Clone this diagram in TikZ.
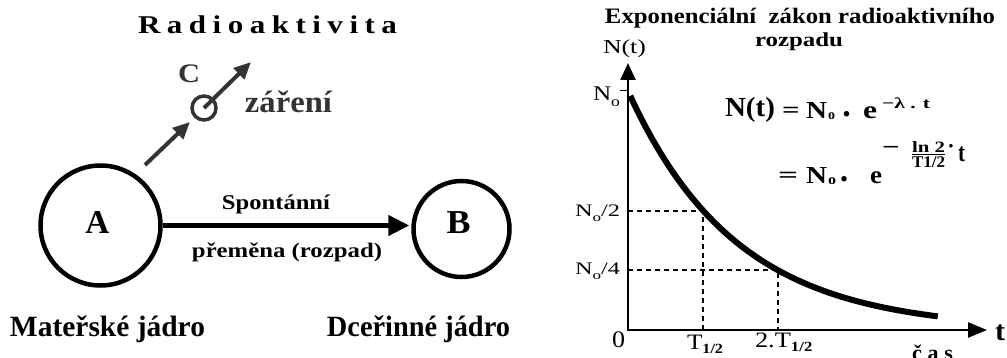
\documentclass[tikz,border=0pt]{standalone}
\usepackage{fontspec}
\setmainfont{Liberation Serif}
\usepackage{graphicx}
\usetikzlibrary{arrows.meta}
\definecolor{dg}{RGB}{51,51,51}
\newcommand{\fitt}[3]{\resizebox*{#1pt}{#2pt}{#3}}
\newcommand{\Nsub}{N\raisebox{-0.3em}{\scriptsize o}}
\newcommand{\fs}[1]{\fontsize{#1}{#1}\selectfont}
\begin{document}
\begin{tikzpicture}[x=1pt,y=-1pt,
  txt/.style={inner sep=0pt,outer sep=0pt},
  ring/.style={circle,draw,line width=4.5pt,inner sep=0pt},
  gr/.style={draw=dg,line width=4pt,-{Triangle[length=17pt,width=15pt]}},
  axisline/.style={line width=2.5pt,{Triangle[length=17pt,width=15pt]}-{Triangle[length=19pt,width=15pt]}},
  dsh/.style={line width=1.2pt,dash pattern=on 5pt off 4pt}]
\useasboundingbox (0,0) rectangle (1007,358);
\clip (0,0) rectangle (1007,358);
% ---------- left part ----------
\node[txt] (title) at (267.5,25) {\fitt{259}{18}{\bfseries\fs{30}\makebox[250pt][s]{R\hfill a\hfill d\hfill i\hfill o\hfill a\hfill k\hfill t\hfill i\hfill v\hfill i\hfill t\hfill a}}};
\node[txt,text=dg] (Clab) at (189,73.5) {\fitt{22}{18}{\bfseries C}};
\node[txt,text=dg] (zar) at (288.5,102) {\fitt{87}{22}{\bfseries záření}};
\node[ring,minimum size=120pt] (A) at (100.5,225.5) {};
\node[txt] (Alab) at (97.5,222.5) {\fitt{24}{22}{\bfseries A}};
\node[ring,minimum size=96pt] (B) at (461.5,229) {};
\node[txt] (Blab) at (458.5,222.5) {\fitt{24}{22}{\bfseries B}};
\draw[line width=4.5pt,-{Triangle[length=21pt,width=20pt]},shorten >=2pt] (A.east) -- (A.east -| B.west);
\node[txt] (sp) at (276,204) {\fitt{108}{19}{\bfseries Spontánní}};
\node[txt] (pr) at (287,252) {\fitt{190}{19}{\bfseries přeměna (rozpad)}};
\node[txt] (mat) at (107.5,329) {\fitt{195}{27}{\bfseries Mateřské jádro}};
\node[txt] (dce) at (418.5,329) {\fitt{183}{27}{\bfseries Dceřinné jádro}};
\coordinate (r0) at (145,165);
\coordinate (r1) at (190,122);
\coordinate (r2) at (251,62);
\node[circle,draw=dg,line width=3.5pt,minimum size=24pt,inner sep=0pt] (Cc) at (204,108) {};
\draw[gr] (r0) -- (r1);
\draw[gr] (Cc.center) -- (r2);
% ---------- right part ----------
\coordinate (O) at (628,330);
\coordinate (ytip) at (628,63);
\coordinate (xtip) at (987,330);
\coordinate (tk0) at (620,91);
\coordinate (tk1) at (628,91);
\coordinate (h0) at (628,211);
\coordinate (h1) at (703,330);
\coordinate (q0) at (628,270);
\coordinate (q1) at (778,330);
\draw[dsh] (h0) -| (h1);
\draw[dsh] (q0) -| (q1);
\draw[axisline] (ytip) -- (O) -- (xtip);
\draw[line width=1pt] (tk0) -- (tk1);
\draw[line width=6pt] plot[domain=0.03:4.13,samples=80,smooth] ({628+75*\x},{330-239*2^(-\x)});
\node[txt] (et) at (800,18) {\fitt{390}{20}{\bfseries Exponenciální\ \ zákon radioaktivního}};
\node[txt] (roz) at (799,41.5) {\fitt{88}{18}{\bfseries rozpadu}};
\node[txt] (nt) at (624.5,49) {\fitt{43}{18}{N(t)}};
\node[txt] (n0) at (606.5,97) {\fitt{27}{20}{\Nsub}};
\node[txt] (n2) at (597.5,213.5) {\fitt{45}{17}{\Nsub/2}};
\node[txt] (n4) at (597.5,271.5) {\fitt{45}{17}{\Nsub/4}};
\node[txt] (zero) at (618.5,339.5) {\fitt{13}{16}{0}};
\node[txt,anchor=north west] (th) at (687,335) {\scalebox{1.15}[1]{\fs{22}T\raisebox{-4pt}{\bfseries\fs{14}1/2}}};
\node[txt,anchor=north west] (t2h) at (755,333) {\scalebox{1.2}[1]{\fs{22}2.T\raisebox{-4pt}{\bfseries\fs{14}1/2}}};
\node[txt,anchor=base west] (cas) at (912,360) {\bfseries\fs{22}\makebox[41pt][s]{č\hfill a\hfill s}};
\node[txt] (tl) at (1000,332.5) {\fitt{10}{16}{\bfseries t}};
% formula line 1
\node[txt] (f1) at (750,110) {\fitt{50}{25}{\bfseries N(t)}};
\node[txt,anchor=base west] (f2) at (782,118) {\scalebox{1.4}[1]{\bfseries\fs{22}=}};
\node[txt] (f3) at (816.5,110.5) {\fitt{21}{16}{\bfseries N}};
\node[txt] (f4) at (831.5,116.5) {\fitt{7}{7}{\bfseries o}};
\node[txt,anchor=base] (f5) at (846.5,117) {\bfseries\fs{34}.};
\node[txt] (f6) at (870,112.5) {\fitt{14}{12}{\bfseries e}};
\node[txt] (f7) at (906,103) {\fitt{48}{11}{\bfseries −λ . t}};
% formula line 2
\node[txt,anchor=base west] (g1) at (778,183) {\scalebox{1.6}[1]{\bfseries\fs{22}=}};
\node[txt] (g2) at (816.5,175.5) {\fitt{21}{16}{\bfseries N}};
\node[txt] (g3) at (832,181.5) {\fitt{8}{7}{\bfseries o}};
\node[txt,anchor=base] (g4) at (844,182) {\bfseries\fs{34}.};
\node[txt] (g5) at (876,177.5) {\fitt{12}{12}{\bfseries e}};
\node[txt,anchor=base west] (g6) at (882,155) {\scalebox{1.4}[1]{\bfseries\fs{22}−}};
\node[txt] (g7) at (928.5,147) {\fitt{33}{11}{\bfseries ln 2}};
\coordinate (fb0) at (912,154.5);
\coordinate (fb1) at (945,154.5);
\draw[line width=1.2pt] (fb0) -- (fb1);
\node[txt] (g8) at (928.5,162.5) {\fitt{33}{11}{\bfseries T1/2}};
\node[txt,anchor=base] (g9) at (951,153.5) {\bfseries\fs{22}·};
\node[txt] (g10) at (961.5,154.5) {\fitt{7}{15}{\bfseries t}};
\end{tikzpicture}
\end{document}
